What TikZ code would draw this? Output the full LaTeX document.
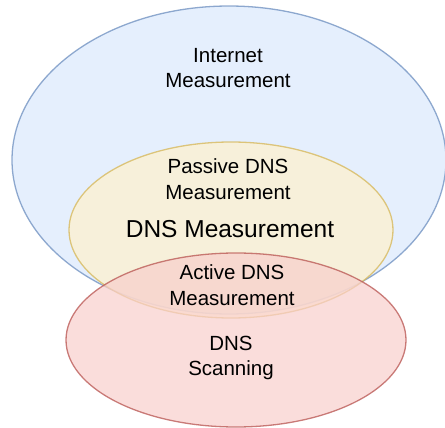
\documentclass[tikz,border=0pt]{standalone}
\usepackage{fontspec}
\setmainfont{Liberation Sans}
\usetikzlibrary{shapes.geometric}

\definecolor{netfill}{HTML}{DAE8FC}
\definecolor{netline}{HTML}{6C8EBF}
\definecolor{dnsfill}{HTML}{FFF2CC}
\definecolor{dnsline}{HTML}{D6B656}
\definecolor{scanfill}{HTML}{F8CECC}
\definecolor{scanline}{HTML}{B85450}

\tikzset{
  area/.style={ellipse, line width=1.3pt, fill opacity=0.7, draw opacity=0.75, inner sep=0pt},
  label/.style={align=center, font=\fontsize{20.5}{25.5}\selectfont}
}

\begin{document}
\begin{tikzpicture}[x=1pt,y=-1pt]
\useasboundingbox (0,0) rectangle (445,428);
\node[area, draw=netline, fill=netfill, minimum width=434pt, minimum height=308pt] (internet) at (229,160) {};
\node[area, draw=dnsline, fill=dnsfill, minimum width=324pt, minimum height=176pt] (dns) at (231,230) {};
\node[area, draw=scanline, fill=scanfill, minimum width=340pt, minimum height=174pt] (scan) at (236,340) {};

\node[label] (internetlbl) at (228,68) {Internet\\Measurement};
\node[label] (passive) at (228,179) {Passive DNS\\Measurement};
\node[font=\fontsize{24.5}{29}\selectfont] (dnslbl) at (230,229) {DNS Measurement};
\node[label] (active) at (232,285) {Active DNS\\Measurement};
\node[label] (scanlbl) at (231,358) {DNS\\Scanning};
\end{tikzpicture}
\end{document}
